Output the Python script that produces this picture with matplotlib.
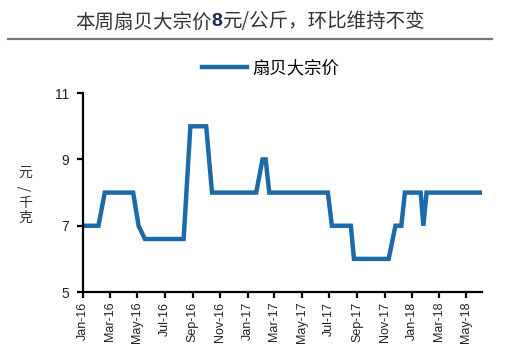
import matplotlib
matplotlib.use('Agg')
import matplotlib.pyplot as plt
import matplotlib.dates as mdates
import pandas as pd

plt.rcParams['font.family'] = ['Liberation Sans', 'Noto Sans CJK SC', 'DejaVu Sans']

# scallop bulk price, yuan/kg
dates = ['2016-01-01', '2016-02-05', '2016-02-19', '2016-04-22', '2016-05-04',
         '2016-05-18', '2016-08-12', '2016-08-27', '2016-10-01', '2016-10-14',
         '2017-01-20', '2017-02-03', '2017-02-10', '2017-02-18', '2017-06-28',
         '2017-07-07', '2017-08-18', '2017-08-25', '2017-11-10', '2017-11-25',
         '2017-12-08', '2017-12-16', '2018-01-20', '2018-01-26', '2018-02-02',
         '2018-06-04']
price = [7, 7, 8, 8, 7,
         6.6, 6.6, 10, 10, 8,
         8, 9, 9, 8, 8,
         7, 7, 6, 6, 7,
         7, 8, 8, 7, 8,
         8]
series_name = '扇贝大宗价'
title_a = '本周扇贝大宗价'
title_b = '8'
title_c = '元/公斤，环比维持不变'

x = pd.to_datetime(dates)

fig = plt.figure(figsize=(5.2, 3.61), dpi=100)
ax = fig.add_axes([0.159, 0.191, 0.767, 0.551])

ax.plot(x, price, color='#1c6aa8', lw=3.2, solid_joinstyle='miter', label=series_name)

ax.set_xlim(pd.Timestamp('2016-01-01'), pd.Timestamp('2018-06-04'))
ax.set_ylim(5, 11)
ax.set_yticks([5, 7, 9, 11])
ax.xaxis.set_major_locator(mdates.MonthLocator(bymonth=[1, 3, 5, 7, 9, 11]))
ax.xaxis.set_major_formatter(mdates.DateFormatter('%b-%y'))
plt.setp(ax.get_xticklabels(), rotation=90)

for s in ['top', 'right']:
    ax.spines[s].set_visible(False)
for s in ['left', 'bottom']:
    ax.spines[s].set_linewidth(1.6)
    ax.spines[s].set_color('black')
ax.tick_params(axis='both', direction='out', length=4, width=1.6, labelsize=9, colors='black')
ax.tick_params(axis='x', labelcolor='#222222', pad=3)
ax.tick_params(axis='y', labelsize=10, labelcolor='#222222', pad=6)

# legend
ax.legend(loc='lower center', bbox_to_anchor=(0.47, 1.0), frameon=False,
          prop={'family': 'Noto Sans CJK SC', 'size': 12.5}, handlelength=2.6,
          handletextpad=0.3)

# vertical unit label
yl = ['元', '/', '千', '克']
for i, ch in enumerate(yl):
    fig.text(25 / 520, 1 - (173 + i * 15) / 361, ch, ha='center', va='center',
             fontsize=10, family='Noto Sans CJK SC', color='#333333',
             rotation=90 if ch == '/' else 0)

# title with bold "8"
t1 = fig.text(75 / 520, 1 - 22 / 361, title_a, ha='left', va='center', fontsize=14,
              family='Noto Sans CJK SC', color='#333333')
fig.canvas.draw()
r = fig.canvas.get_renderer()
bb = t1.get_window_extent(r)
t2 = fig.text(bb.x1 / 520, 1 - 22 / 361, title_b, ha='left', va='center', fontsize=14,
              family='Liberation Sans', weight='bold', color='#1a2a4a')
bb2 = t2.get_window_extent(r)
fig.text(bb2.x1 / 520, 1 - 22 / 361, title_c, ha='left', va='center', fontsize=14,
         family='Noto Sans CJK SC', color='#333333')

fig.add_artist(plt.Line2D([8 / 520, 492 / 520], [1 - 39 / 361, 1 - 39 / 361],
                          color='#777777', lw=1.6))

fig.savefig('out.png', dpi=100)
